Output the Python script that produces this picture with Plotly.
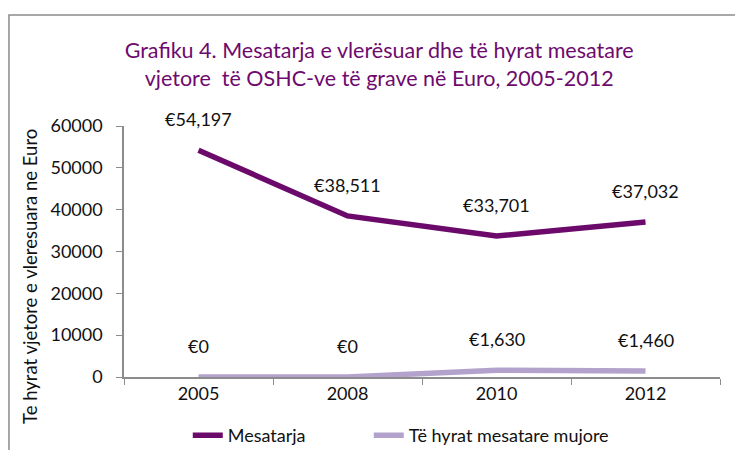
import plotly.graph_objects as go

years = ["2005", "2008", "2010", "2012"]
mesatarja = [54197, 38511, 33701, 37032]
mujore = [0, 0, 1630, 1460]
name_mes = "Mesatarja"
name_muj = "Të hyrat mesatare mujore"
y_ticks = [0, 10000, 20000, 30000, 40000, 50000, 60000]

dark = "#6B0A6B"
light = "#B3A3CC"
font = "Lato, 'Open Sans', sans-serif"

fig = go.Figure()
fig.add_trace(go.Scatter(x=years, y=mesatarja, name=name_mes, mode="lines",
                         line=dict(color=dark, width=5.5), legendwidth=136))
fig.add_trace(go.Scatter(x=years, y=mujore, name=name_muj, mode="lines",
                         line=dict(color=light, width=5.5), legendwidth=270))

def fmt(v):
    return "€" + f"{v:,}"

for ser in (mesatarja, mujore):
    for i, v in enumerate(ser):
        fig.add_annotation(x=i, y=v, xref="x", yref="y", text=fmt(v), showarrow=False, yshift=31,
                           font=dict(size=18, color="#111111", family=font))

# y-axis title (placed like the reference, slightly below axis centre)
fig.add_annotation(x=-0.158, y=0.402, xref="paper", yref="paper", text="Te hyrat vjetore e vleresuara ne Euro",
                   textangle=-90, showarrow=False, xanchor="center", yanchor="middle",
                   font=dict(size=18.5, color="#111111", family=font))

fig.add_shape(type="rect", xref="paper", yref="paper", x0=-0.193, x1=1.2, y0=-0.5, y1=1.442,
              line=dict(color="#8c8c8c", width=1.5))

fig.update_layout(
    width=735, height=442,
    margin=dict(l=116, r=23, t=118, b=73, autoexpand=False),
    paper_bgcolor="white", plot_bgcolor="white",
    font=dict(family=font, size=16, color="#111111"),
    title=dict(text="Grafiku 4. Mesatarja e vlerësuar dhe të hyrat mesatare<br>vjetore  të OSHC-ve të grave në Euro, 2005-2012",
               x=0.505, xanchor="center", y=0.887, yanchor="middle",
               font=dict(size=21.5, color="#6E0A6E", family=font)),
    showlegend=True,
    legend=dict(orientation="h", x=0.107, xanchor="left", y=-0.16, yanchor="top",
                font=dict(size=18), tracegroupgap=0),
    xaxis=dict(type="category", range=[-0.5, 3.5], showline=True, linecolor="#8c8c8c", linewidth=1.5,
               ticks="outside", tickson="boundaries", ticklen=6, tickcolor="#8c8c8c",
               showgrid=False, tickfont=dict(size=18), zeroline=False, automargin=False),
    yaxis=dict(range=[0, 60000], tickvals=y_ticks, tickformat="d", showline=True, linecolor="#8c8c8c", linewidth=1.5,
               ticks="outside", ticklen=6, tickcolor="#8c8c8c", showgrid=False, zeroline=False,
               tickfont=dict(size=18), automargin=False, ticklabelstandoff=10),
)

fig.write_html("out.html")
